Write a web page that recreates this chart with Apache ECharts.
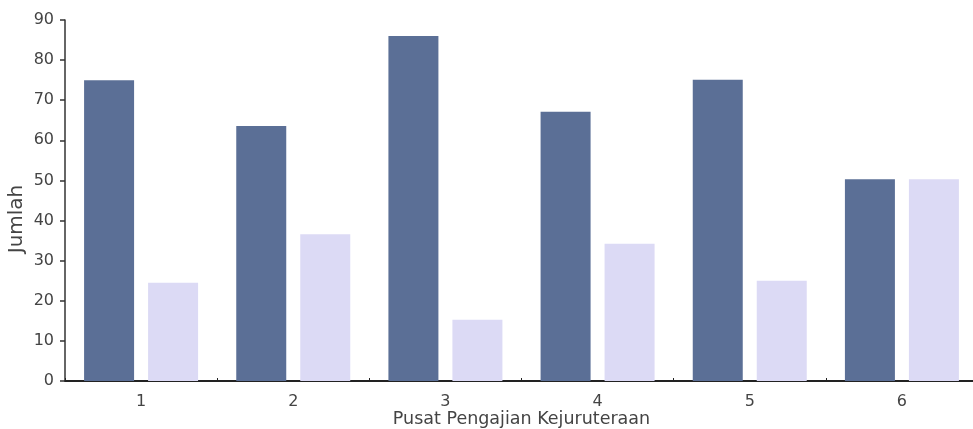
<!DOCTYPE html>
<html>
<head>
<meta charset="utf-8">
<script src="https://cdn.jsdelivr.net/npm/echarts@6/dist/echarts.min.js"></script>
<style>
html,body{margin:0;padding:0;background:#fff;}
#c{width:973px;height:429px;}
</style>
</head>
<body>
<div id="c"></div>
<script>
var categories = ['1', '2', '3', '4', '5', '6'];
var seriesA = [75, 63.6, 86, 67.1, 75.1, 50.3];
var seriesB = [24.5, 36.6, 15.3, 34.2, 25, 50.3];
var yTicks = [0, 10, 20, 30, 40, 50, 60, 70, 80, 90];

var chart = echarts.init(document.getElementById('c'));
chart.setOption({
  animation: false,
  backgroundColor: '#ffffff',
  grid: { left: 65, top: 20, bottom: 48, width: 913, containLabel: false, outerBoundsMode: 'none' },
  xAxis: {
    type: 'category',
    data: categories,
    name: 'Pusat Pengajian Kejuruteraan',
    nameLocation: 'middle',
    nameMoveOverlap: false,
    nameGap: 29,
    nameTextStyle: { fontFamily: 'DejaVu Sans', fontSize: 17.5, color: '#444', lineHeight: 18 },
    axisLine: { lineStyle: { color: '#222', width: 2 } },
    axisTick: { show: true, inside: true, length: 3, lineStyle: { color: '#222' } },
    axisLabel: { fontFamily: 'DejaVu Sans', fontSize: 16, color: '#444', margin: 13 }
  },
  yAxis: {
    type: 'value',
    min: yTicks[0],
    max: yTicks[yTicks.length - 1],
    interval: 10,
    name: 'Jumlah',
    nameLocation: 'middle',
    nameMoveOverlap: false,
    nameGap: 38,
    nameTextStyle: { fontFamily: 'DejaVu Sans', fontSize: 20, color: '#444', padding: [0, 37, 0, 0] },
    axisLine: { show: true, lineStyle: { color: '#333', width: 1.5 } },
    axisTick: { show: true, length: 5, lineStyle: { color: '#333', width: 1.5 } },
    axisLabel: { fontFamily: 'DejaVu Sans', fontSize: 16, color: '#444', margin: 11 },
    splitLine: { show: false }
  },
  series: [
    {
      type: 'bar',
      data: seriesA,
      barWidth: 50,
      barGap: '28%',
      itemStyle: { color: '#5b6f96' }
    },
    {
      type: 'bar',
      data: seriesB,
      barWidth: 50,
      itemStyle: { color: '#dcdaf5' }
    }
  ]
});
</script>
</body>
</html>
